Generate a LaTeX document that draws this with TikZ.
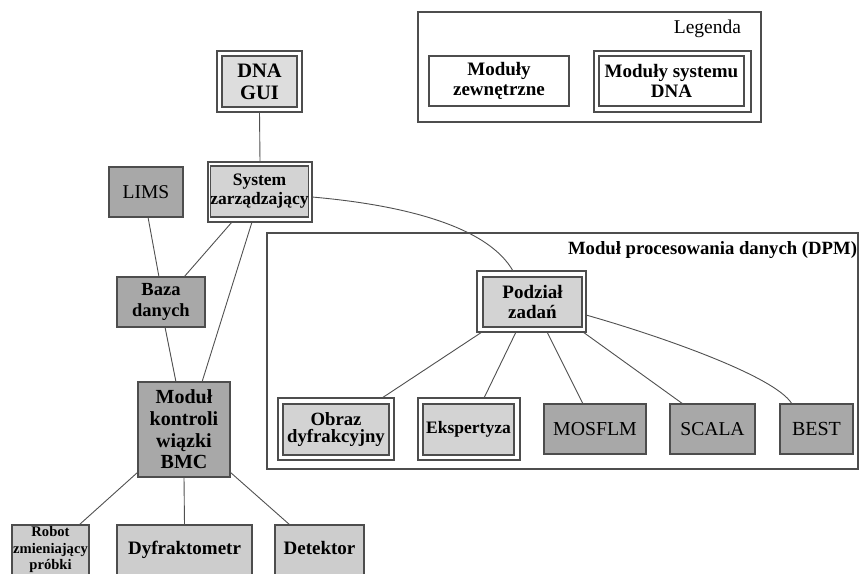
\documentclass[tikz,border=0pt]{standalone}
\usepackage{fontspec}
\setmainfont{Liberation Serif}
\definecolor{bd}{HTML}{4D4D4D}
\definecolor{lightf}{HTML}{D3D3D3}
\definecolor{guif}{HTML}{DDDDDD}
\definecolor{darkf}{HTML}{A8A8A8}
\definecolor{extf}{HTML}{CDCDCD}
\definecolor{ln}{HTML}{505050}
\begin{document}
\begin{tikzpicture}[x=1pt,y=-1pt,
  every node/.style={inner sep=0pt, outer sep=0pt},
  box/.style={draw=bd, line width=1.1pt, align=center},
  outerbox/.style={box, fill=white},
  innerbox/.style={box, fill=lightf},
  darkbox/.style={box, fill=darkf},
  extbox/.style={box, fill=extf},
  conn/.style={draw=ln, line width=0.9pt},
  bfa/.style={font=\fontsize{19}{20.5}\selectfont\bfseries},
  bfb/.style={font=\fontsize{20}{21.7}\selectfont\bfseries},
  bfs/.style={font=\fontsize{17.5}{19}\selectfont\bfseries},
  rma/.style={font=\fontsize{19.5}{21}\selectfont},
]
\useasboundingbox (0,0) rectangle (861,573);
\clip (0,0) rectangle (861,573);

% Legend
\node[outerbox, minimum width=343, minimum height=110] (leg) at (589.5,67) {};
\node[anchor=base east, rma] (legt) at (741,33) {Legenda};
\node[outerbox, minimum width=140, minimum height=50, bfa] (legext) at (499,81) {Moduły\\zewnętrzne};
\node[outerbox, minimum width=157, minimum height=61] (legdna) at (672.5,81.5) {};
\node[outerbox, minimum width=145, minimum height=50, bfa] (legdnain) at (671.5,81) {Moduły systemu\\DNA};

% DPM frame
\node[outerbox, minimum width=591, minimum height=236] (dpm) at (562.5,351) {};
\node[anchor=base east, font=\fontsize{18.7}{20}\selectfont\bfseries] (dpmt) at (857,254) {Moduł procesowania danych (DPM)};

% DNA GUI
\node[outerbox, minimum width=85, minimum height=61] (gui) at (259.5,81.5) {};
\node[box, fill=guif, minimum width=75, minimum height=51, font=\fontsize{20.5}{22}\selectfont\bfseries] (guiin) at (259.5,81.5) {DNA\\GUI};

% System zarzadzajacy
\node[outerbox, minimum width=104, minimum height=60] (sys) at (260,192) {};
\node[innerbox, minimum width=95, minimum height=51, bfs] (sysin) at (259.5,191.5) {System\\zarządzający};

% LIMS, Baza, BMC
\node[darkbox, minimum width=74, minimum height=50, rma] (lims) at (146,192) {LIMS};
\node[darkbox, minimum width=88, minimum height=50, font=\fontsize{18.5}{21}\selectfont\bfseries] (baza) at (161,302) {Baza\\danych};
\node[darkbox, minimum width=92, minimum height=95, bfb] (bmc) at (184,429.5) {Moduł\\kontroli\\wiązki\\BMC};

% bottom devices
\node[extbox, minimum width=77, minimum height=65] (robot) at (50.5,557.5) {};
\node[anchor=north, align=center, font=\fontsize{14.6}{16.5}\selectfont\bfseries] (robott) at (50.5,526.5) {Robot\\zmieniający\\próbki};
\node[extbox, minimum width=135, minimum height=75] (dyf) at (184.5,562.5) {};
\node[anchor=base, font=\fontsize{19}{20}\selectfont\bfseries] (dyft) at (184.5,554) {Dyfraktometr};
\node[extbox, minimum width=89, minimum height=75] (det) at (319.5,562.5) {};
\node[anchor=base, font=\fontsize{19}{20}\selectfont\bfseries] (dett) at (319.5,554) {Detektor};

% Podzial zadan
\node[outerbox, minimum width=109, minimum height=61] (pod) at (531.5,301.5) {};
\node[innerbox, minimum width=99, minimum height=50, font=\fontsize{19}{20.7}\selectfont\bfseries] (podin) at (532.5,302) {Podział\\zadań};

% DPM children
\node[outerbox, minimum width=116, minimum height=62] (obr) at (336,429) {};
\node[innerbox, minimum width=106, minimum height=51, font=\fontsize{18.7}{17.5}\selectfont\bfseries] (obrin) at (336,429.5) {Obraz\\dyfrakcyjny};
\node[outerbox, minimum width=102, minimum height=62] (eks) at (469,429) {};
\node[innerbox, minimum width=91, minimum height=51, font=\fontsize{17.5}{19}\selectfont\bfseries] (eksin) at (468.5,429.5) {Ekspertyza};
\node[darkbox, minimum width=102, minimum height=50, font=\fontsize{19.8}{21}\selectfont] (mos) at (595,429) {MOSFLM};
\node[darkbox, minimum width=85, minimum height=50, font=\fontsize{19.6}{21}\selectfont] (sca) at (712.5,429) {SCALA};
\node[darkbox, minimum width=73, minimum height=50, font=\fontsize{20}{21}\selectfont] (bes) at (816.5,429) {BEST};

% connectors
\draw[conn] (gui.south) -- (sys.north);
\draw[conn] ([xshift=2]lims.south) -- ([xshift=-2]baza.north);
\draw[conn] ([xshift=-28]sys.south) -- ([xshift=23]baza.north);
\draw[conn] ([xshift=-8]sys.south) -- ([xshift=18]bmc.north);
\draw[conn] ([xshift=4]baza.south) -- ([xshift=-8]bmc.north);
\draw[conn] ([yshift=5]bmc.south west) -- ([xshift=28.5]robot.north);
\draw[conn] (bmc.south) -- (dyf.north);
\draw[conn] ([yshift=5]bmc.south east) -- ([xshift=-29.5]det.north);
\draw[conn] ([yshift=-5]sys.east) .. controls (415,206) and (490,230) .. ([xshift=-18.5]pod.north);
\draw[conn] ([xshift=-49.5]pod.south) -- ([xshift=46]obr.north);
\draw[conn] ([xshift=-15.5]pod.south) -- ([xshift=15]eks.north);
\draw[conn] ([xshift=15.5]pod.south) -- ([xshift=-12]mos.north);
\draw[conn] ([xshift=51.5]pod.south) -- ([xshift=-29.5]sca.north);
\draw[conn] ([yshift=-13.5]pod.east) .. controls (650,333) and (775,375) .. ([xshift=-24.5]bes.north);
\end{tikzpicture}
\end{document}
